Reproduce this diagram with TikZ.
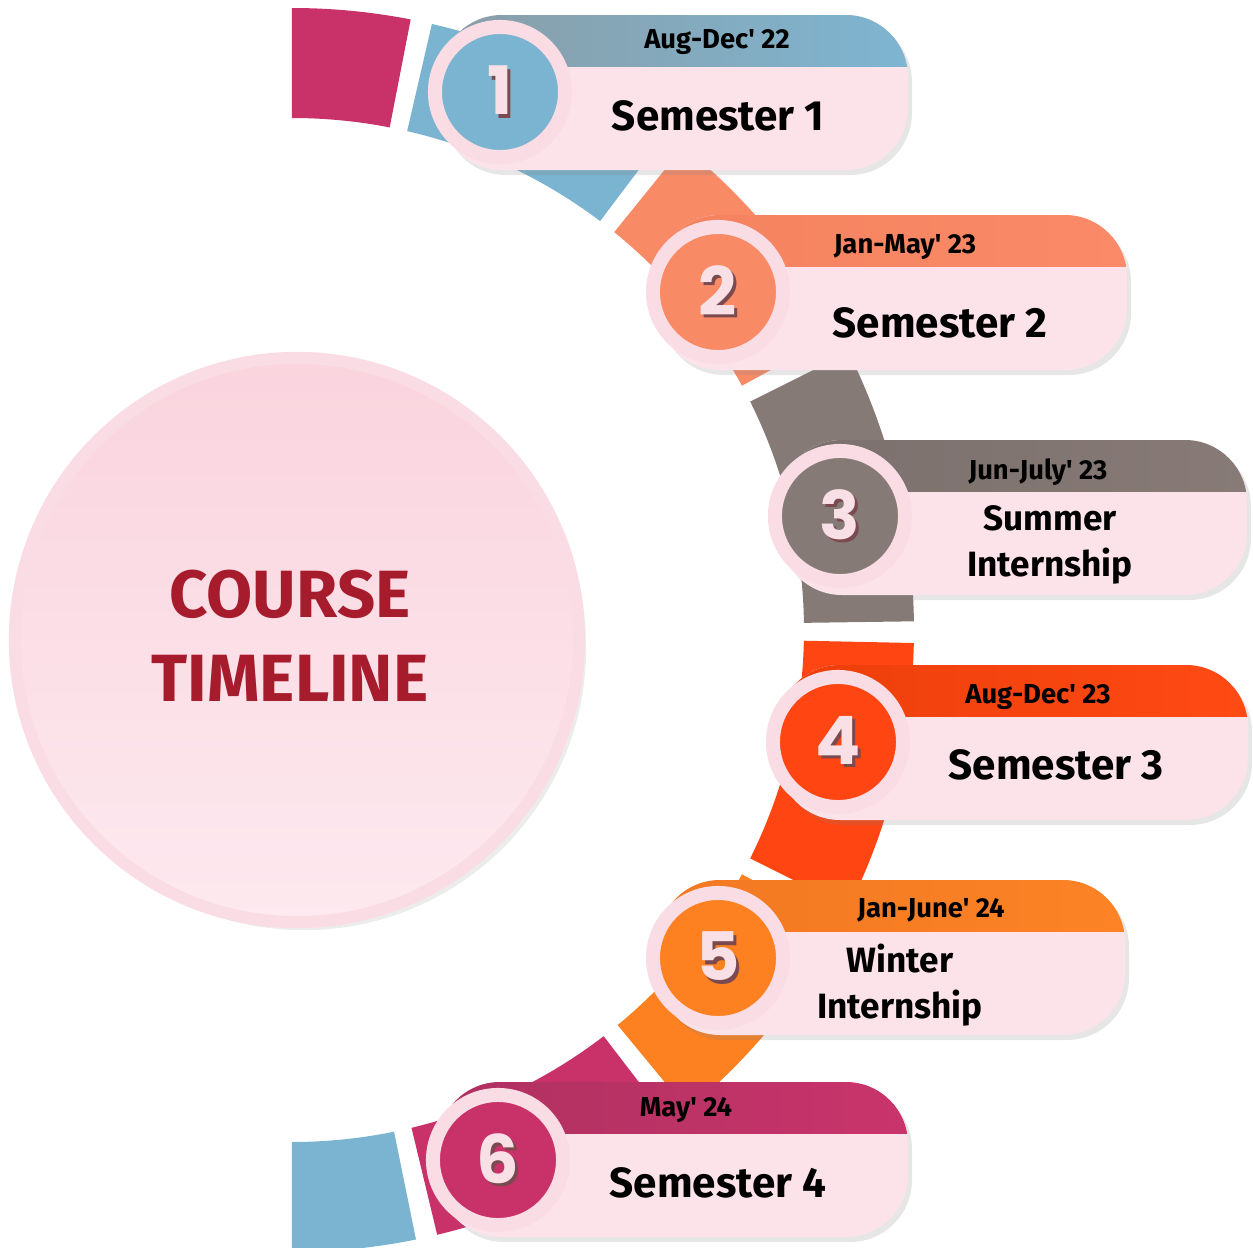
\documentclass[tikz,border=0pt]{standalone}
\usepackage{fontspec}
\setmainfont{Fira Sans}
\newfontfamily\labelfont{Fira Sans}
\newfontfamily\digitfont{Poppins}
\usetikzlibrary{shadows}

\definecolor{ringpink}{HTML}{C93169}
\definecolor{ringblue}{HTML}{7AB4D0}
\definecolor{ringsalmon}{HTML}{F98A66}
\definecolor{ringgray}{HTML}{867A76}
\definecolor{ringred}{HTML}{FF4511}
\definecolor{ringorange}{HTML}{FD8121}
\definecolor{pillbody}{HTML}{FCE3EA}
\definecolor{discrim}{HTML}{FADCE4}
\definecolor{numcol}{HTML}{F9E0E6}
\definecolor{numshadow}{HTML}{7A4A50}
\definecolor{hubtop}{HTML}{FAD4DE}
\definecolor{hubbot}{HTML}{FDE9EF}
\definecolor{hubrim}{HTML}{FADDE4}
\definecolor{hubtitle}{HTML}{A61C2C}
\definecolor{bandblueL}{HTML}{8A9DA7}
\definecolor{bandblueR}{HTML}{7EB5D1}
\definecolor{bandsalmonL}{HTML}{F4825F}
\definecolor{bandsalmonR}{HTML}{FA8A68}
\definecolor{bandgrayL}{HTML}{7B706D}
\definecolor{bandgrayR}{HTML}{877A77}
\definecolor{bandredL}{HTML}{EC3E0A}
\definecolor{bandredR}{HTML}{FF4A14}
\definecolor{bandorangeL}{HTML}{F27822}
\definecolor{bandorangeR}{HTML}{FD8326}
\definecolor{bandpinkL}{HTML}{AE3160}
\definecolor{bandpinkR}{HTML}{C9346B}

% digit with a small dark shadow behind it
\newcommand\shnum[1]{\makebox[0pt][l]{\kern0.8pt\raisebox{-1pt}{\color{numshadow}#1}}#1}

\begin{document}
\begin{tikzpicture}[x=0.01cm, y=-0.01cm,
    numdisc/.style={circle, minimum size=1.30cm, inner sep=0pt, line width=0.14cm,
      draw=discrim, text=numcol, font=\digitfont\bfseries\fontsize{19}{19}\selectfont,
      drop shadow={opacity=0.18, shadow xshift=0.03cm, shadow yshift=-0.05cm}},
    datelbl/.style={font=\labelfont\bfseries\fontsize{7.8}{9}\selectfont, text=black},
    titlelbl/.style={font=\labelfont\bfseries\fontsize{12}{13}\selectfont, text=black, align=center},
    twolbl/.style={font=\labelfont\bfseries\fontsize{10}{13}\selectfont, text=black, align=center},
    hub/.style={circle, minimum size=5.64cm, inner sep=0pt, top color=hubtop, bottom color=hubbot,
      draw=hubrim, line width=0.12cm,
      drop shadow={opacity=0.15, shadow xshift=0.07cm, shadow yshift=-0.08cm}},
    hubtext/.style={font=\labelfont\bfseries\fontsize{19}{24}\selectfont, text=hubtitle, align=center}]

  \useasboundingbox (0,0) rectangle (1253,1248);
  \coordinate (ring) at (292,630);

  % ring pieces
  \foreach \a/\b/\col in {-90/-79/ringpink, -77/-53/ringblue, -51/-28.5/ringsalmon,
      -26.5/-0.8/ringgray, 1.2/26.5/ringred, 28.5/50.5/ringorange,
      52.5/76.5/ringpink, 78.5/90/ringblue} {
    \fill[\col] ([shift={(ring)}]\a:622) arc[start angle=\a, end angle=\b, radius=622]
      -- ([shift={(ring)}]\b:512) arc[start angle=\b, end angle=\a, radius=512] -- cycle;
  }

  \node[hub] (hub) at (297,640) {};
  \node[hubtext] (course) at (290,636) {COURSE\\TIMELINE};

  % pills
  \foreach \cx/\ytop/\rgt/\bl/\br in {500/15/908/bandblueL/bandblueR,
      718/215/1127/bandsalmonL/bandsalmonR, 840/440/1247/bandgrayL/bandgrayR,
      838/665/1248/bandredL/bandredR, 718/880/1125/bandorangeL/bandorangeR,
      498/1082/908/bandpinkL/bandpinkR} {
    \fill[pillbody, rounded corners=0.62cm,
      drop shadow={opacity=0.2, shadow xshift=0.04cm, shadow yshift=-0.05cm}]
      (\cx-60,\ytop) rectangle (\rgt,\ytop+155);
    \begin{scope}
      \clip[rounded corners=0.62cm] (\cx-60,\ytop) rectangle (\rgt,\ytop+155);
      \shade[left color=\bl, right color=\br] (\cx-60,\ytop) rectangle (\rgt,\ytop+51);
    \end{scope}
  }

  \node[numdisc, fill=ringblue] (num1) at (500,92) {\shnum{1}};
  \node[numdisc, fill=ringsalmon] (num2) at (718,292) {\shnum{2}};
  \node[numdisc, fill=ringgray] (num3) at (840,516) {\shnum{3}};
  \node[numdisc, fill=ringred] (num4) at (838,742) {\shnum{4}};
  \node[numdisc, fill=ringorange] (num5) at (718,958) {\shnum{5}};
  \node[numdisc, fill=ringpink] (num6) at (498,1160) {\shnum{6}};

  \node[datelbl] (date1) at (717,42) {Aug-Dec' 22};
  \node[datelbl] (date2) at (905,247) {Jan-May' 23};
  \node[datelbl] (date3) at (1038,472) {Jun-July' 23};
  \node[datelbl] (date4) at (1038,697) {Aug-Dec' 23};
  \node[datelbl] (date5) at (931,910) {Jan-June' 24};
  \node[datelbl] (date6) at (686,1110) {May' 24};

  \node[titlelbl] (sem1) at (718,116) {Semester 1};
  \node[titlelbl] (sem2) at (940,323) {Semester 2};
  \node[twolbl] (summer) at (1050,545) {Summer\\Internship};
  \node[titlelbl] (sem3) at (1056,765) {Semester 3};
  \node[twolbl] (winter) at (900,985) {Winter\\Internship};
  \node[titlelbl] (sem4) at (718,1183) {Semester 4};

\end{tikzpicture}
\end{document}
